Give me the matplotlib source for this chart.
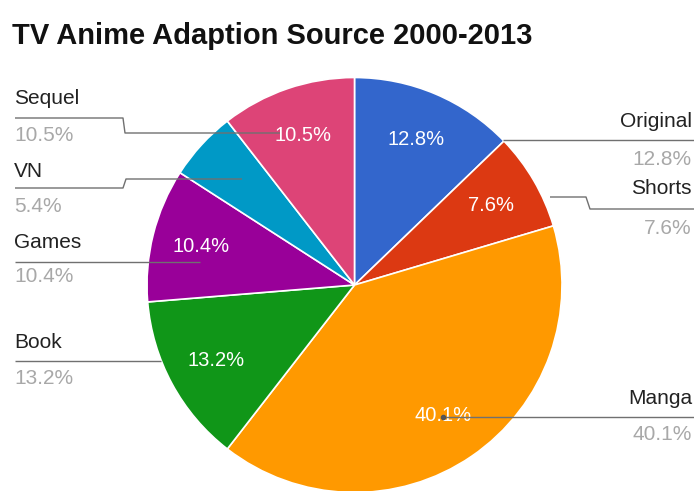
import matplotlib
matplotlib.use('Agg')
import matplotlib.pyplot as plt

plt.rcParams['font.family'] = ['Liberation Sans', 'DejaVu Sans']

title = "TV Anime Adaption Source 2000-2013"
labels = ["Original", "Shorts", "Manga", "Book", "Games", "VN", "Sequel"]
shares = [12.8, 7.6, 40.1, 13.2, 10.4, 5.4, 10.5]
colors = ["#3366cc", "#dc3912", "#ff9900", "#109618", "#990099", "#0099c6", "#dd4477"]

W, H = 694, 491
# side labels: (x, y of name, y of value, align) in pixel coords (top-left origin)
side = {
    "Original": (692, 121, 159, "right"),
    "Shorts": (692, 188, 228, "right"),
    "Manga": (692, 398, 434, "right"),
    "Book": (14, 342, 378, "left"),
    "Games": (14, 242, 277, "left"),
    "VN": (14, 171, 206, "left"),
    "Sequel": (14, 98, 135, "left"),
}
# leader lines in pixel coords
leaders = {
    "Original": [(694, 140), (503, 140)],
    "Shorts": [(694, 209), (590, 209), (586, 197), (550, 197)],
    "Manga": [(694, 417), (443, 417)],
    "Book": [(15, 361), (161, 361)],
    "Games": [(15, 262), (200, 262)],
    "VN": [(15, 188), (123, 188), (126, 179), (242, 179)],
    "Sequel": [(15, 118), (123, 118), (125, 133), (280, 133)],
}

def fy(y):
    return H - y

fig = plt.figure(figsize=(W / 100, H / 100), dpi=100)
ax = fig.add_axes([0, 0, 1, 1])

cx, cy, r = 354.5, fy(285), 207.5
# google hides the inside label on small slices
inner = [f"{v}%" if v >= 7 else "" for v in shares]
wedges, texts = ax.pie(shares, colors=colors, startangle=90, counterclock=False,
                       center=(cx, cy), radius=r,
                       labels=inner, labeldistance=0.76,
                       wedgeprops=dict(edgecolor="white", linewidth=1.2),
                       textprops=dict(color="white", fontsize=14.5))
for t in texts:
    t.set_ha("center")
    t.set_va("center")

for lab, pts in leaders.items():
    xs = [p[0] for p in pts]
    ys = [fy(p[1]) for p in pts]
    ax.plot(xs, ys, color="#707070", lw=1.0, zorder=5, solid_capstyle="butt")
ax.plot([443], [fy(417)], "o", color="#555555", ms=3, zorder=6)

for lab, val in zip(labels, shares):
    x, yn, yv, ha = side[lab]
    ax.text(x, fy(yn), lab, ha=ha, va="center", fontsize=15, color="#222222")
    ax.text(x, fy(yv), f"{val}%", ha=ha, va="center", fontsize=15, color="#a8a8a8")

ax.text(12, fy(36), title, ha="left", va="center", fontsize=21, fontweight="bold", color="#111111")

ax.set_xlim(0, W)
ax.set_ylim(0, H)
ax.set_aspect("equal")
ax.axis("off")

fig.savefig("out.png", dpi=100, facecolor="white")
